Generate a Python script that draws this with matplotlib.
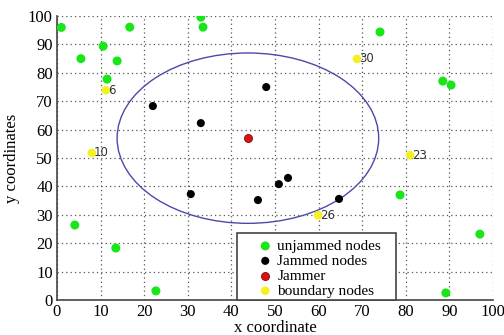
import matplotlib
matplotlib.use("Agg")
import matplotlib.pyplot as plt
import numpy as np
from matplotlib.patches import Circle, Rectangle

# node positions
unjammed_x = [1, 5.5, 10.6, 13.8, 16.7, 11.5, 33, 33.5, 74.1, 88.5, 90.4, 78.7, 97, 89.2, 4.1, 13.5, 22.7]
unjammed_y = [96, 85, 89.4, 84.2, 96.1, 77.8, 99.6, 96.1, 94.4, 77.1, 75.7, 37, 23.2, 2.5, 26.4, 18.3, 3.2]

jammed_x = [22, 33, 48, 30.7, 46.1, 50.9, 53, 64.7]
jammed_y = [68.3, 62.3, 75, 37.3, 35.2, 40.8, 43, 35.6]

jammer_x = [43.8]
jammer_y = [57]

boundary_x = [11.2, 8, 68.8, 81, 59.9]
boundary_y = [73.9, 51.8, 84.9, 51, 29.9]
boundary_ids = ["6", "10", "30", "23", "26"]

jam_radius = 30

plt.rcParams["font.family"] = ["Liberation Serif", "DejaVu Serif"]

fig = plt.figure(figsize=(5.04, 3.35), dpi=100)
ax = fig.add_axes([0.113, 0.1045, 0.865, 0.8475])

ax.add_patch(Circle((jammer_x[0], jammer_y[0]), jam_radius, fill=False,
                    edgecolor="#4a4aa8", linewidth=1.0, zorder=2))

ax.scatter(unjammed_x, unjammed_y, s=42, color="#19e619", edgecolors="none",
           label="unjammed nodes", zorder=3)
ax.scatter(jammed_x, jammed_y, s=34, color="black", edgecolors="none",
           label="Jammed nodes", zorder=3)
ax.scatter(jammer_x, jammer_y, s=34, color="#e01010", edgecolors="#600000",
           linewidths=0.5, label="Jammer", zorder=3)
ax.scatter(boundary_x, boundary_y, s=38, color="#f5f020", edgecolors="none",
           label="boundary nodes", zorder=3)
for x, y, t in zip(boundary_x, boundary_y, boundary_ids):
    ax.text(x + 0.5, y, t, fontsize=8.5, family="DejaVu Sans", color="#333333",
            va="center", ha="left", zorder=4)

ax.set_xlim(0, 100)
ax.set_ylim(0, 100)
ax.set_xticks(np.arange(0, 101, 10))
ax.set_yticks(np.arange(0, 101, 10))
ax.tick_params(labelsize=12, length=0, pad=3)
ax.grid(True, linestyle=(0, (1, 2.5)), color="#555555", linewidth=0.9)
ax.set_axisbelow(True)
for s in ["top", "right"]:
    ax.spines[s].set_visible(False)
for s in ["left", "bottom"]:
    ax.spines[s].set_color("#444444")
    ax.spines[s].set_linewidth(1.2)

ax.set_xlabel("x coordinate", fontsize=12, labelpad=0)
ax.set_ylabel("y coordinates", fontsize=12, labelpad=6)

# legend box drawn separately so the padding matches the original
ax.add_patch(Rectangle((41.4, 0), 36.4, 23.6, transform=ax.transData,
                       facecolor="white", edgecolor="#444444", linewidth=1.2,
                       zorder=5, clip_on=False))
leg = ax.legend(loc="lower left", bbox_to_anchor=(0.455, 0.0), fontsize=11,
                frameon=False, handletextpad=0.3, borderpad=0.15,
                labelspacing=0.08, handlelength=1.0, borderaxespad=0)
leg.set_zorder(6)

fig.savefig("out.png", dpi=100)
